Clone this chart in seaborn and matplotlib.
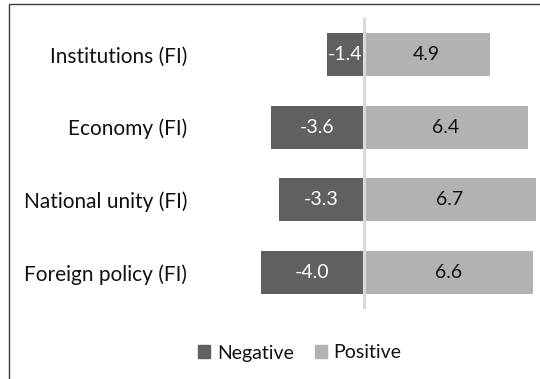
import matplotlib
matplotlib.use("Agg")
import matplotlib.pyplot as plt
import matplotlib.patches as mpatches
import seaborn as sns
import pandas as pd

# Data
categories = ["Institutions (FI)", "Economy (FI)", "National unity (FI)", "Foreign policy (FI)"]
negative = [-1.4, -3.6, -3.3, -4.0]
positive = [4.9, 6.4, 6.7, 6.6]
series_names = ["Negative", "Positive"]

NEG_COLOR = "#606060"
POS_COLOR = "#b2b2b2"
FS = 14

sns.set_theme(style="white")
plt.rcParams["font.family"] = ["Lato", "DejaVu Sans"]

W, H = 540, 379
fig = plt.figure(figsize=(W / 100, H / 100), dpi=100)
fig.patch.set_facecolor("white")

# Axes placement in pixel coordinates
ax_left, ax_right, ax_top, ax_bottom = 200, 540, 18, 309
ax = fig.add_axes([ax_left / W, 1 - ax_bottom / H,
                   (ax_right - ax_left) / W, (ax_bottom - ax_top) / H])

df = pd.DataFrame({
    "Category": categories * 2,
    "Value": negative + positive,
    "Sign": [series_names[0]] * len(categories) + [series_names[1]] * len(categories),
})

sns.barplot(data=df, y="Category", x="Value", hue="Sign", dodge=False,
            order=categories, hue_order=series_names,
            palette=[NEG_COLOR, POS_COLOR], width=0.59, saturation=1,
            ax=ax, legend=False, edgecolor="none", linewidth=0)

# Scale: ~25.75 px per unit with zero at x=363.5 px
zero_px, px_per_unit = 363.5, 25.75
ax.set_xlim((ax_left - zero_px) / px_per_unit, (ax_right - zero_px) / px_per_unit)
ax.set_ylim(len(categories) - 0.5, -0.5)

ax.axvline(0, color="#d9d9d9", linewidth=2.2, zorder=3)

for container, color in zip(ax.containers, ["white", "#111111"]):
    ax.bar_label(container, labels=[f"{v:.1f}" for v in container.datavalues],
                 label_type="center", color=color, fontsize=FS, zorder=4)

for s in ax.spines.values():
    s.set_visible(False)
ax.set_xticks([])
ax.set_xlabel("")
ax.set_ylabel("")
ax.tick_params(axis="y", length=0, pad=9, labelsize=15, labelcolor="#111111")

# Chart frame
fig.patches.append(mpatches.Rectangle((9 / W, -0.1), 1.2, 1 - 4 / H + 0.1,
                                      transform=fig.transFigure, fill=False,
                                      edgecolor="#3a3a3a", linewidth=1.0))

handles = [mpatches.Patch(color=NEG_COLOR, label=series_names[0]),
           mpatches.Patch(color=POS_COLOR, label=series_names[1])]
fig.legend(handles=handles, loc="center", bbox_to_anchor=(300 / W, 1 - 353 / H),
           ncol=2, frameon=False, fontsize=FS, handlelength=0.6, handleheight=0.6,
           handletextpad=0.35, columnspacing=1.1, labelcolor="#111111")

fig.savefig("out.png", dpi=100, facecolor="white")
